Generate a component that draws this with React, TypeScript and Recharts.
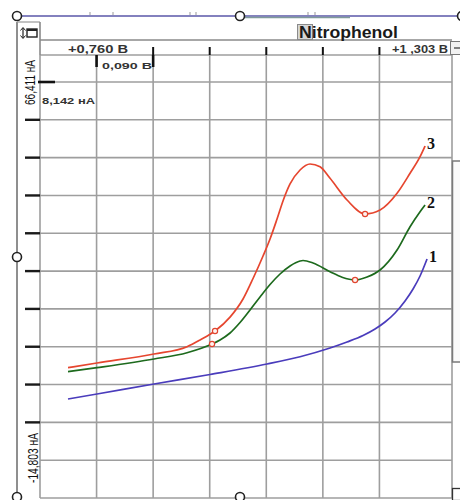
import React from "react";
import {
  ComposedChart,
  Line,
  Scatter,
  XAxis,
  YAxis,
  CartesianGrid,
  LabelList,
} from "recharts";

// Potential (V) and current (nA)
const curve1V = [0.7143, 0.7607, 0.8519, 0.9415, 1.0327, 1.0855, 1.1335, 1.1607, 1.1863, 1.2055, 1.2215, 1.2375, 1.2535, 1.2663, 1.2775, 1.2887];
const curve1I = [-1.66, -0.59, 1.56, 3.6, 5.85, 7.42, 9.29, 10.58, 11.97, 13.37, 14.87, 16.81, 19.38, 21.96, 24.75, 28.4];

const curve2V = [0.7143, 0.7607, 0.8519, 0.9047, 0.9447, 0.9575, 0.9735, 0.9895, 1.0055, 1.0215, 1.0375, 1.0535, 1.0695, 1.0855, 1.0903, 1.1063, 1.1335, 1.1527, 1.1735, 1.1927, 1.2135, 1.2407, 1.2615, 1.2775, 1.2855];
const curve2I = [4.2, 5.06, 6.93, 8.28, 10.15, 11.01, 12.51, 14.76, 17.45, 20.24, 22.92, 25.18, 26.9, 27.97, 28.08, 27.54, 25.67, 24.47, 23.89, 24.54, 26.04, 30.33, 35.34, 38.56, 40.0];

const curve3V = [0.7143, 0.7607, 0.8519, 0.9047, 0.9255, 0.9495, 0.9735, 0.9943, 1.0103, 1.0263, 1.0375, 1.0487, 1.0588, 1.0695, 1.0855, 1.1015, 1.1175, 1.1335, 1.1607, 1.1895, 1.2135, 1.2407, 1.2615, 1.2775, 1.2855];
const curve3I = [5.06, 6.07, 8.0, 9.57, 11.01, 12.94, 15.92, 19.81, 24.21, 29.05, 32.7, 36.99, 41.07, 44.51, 47.51, 48.8, 48.22, 45.73, 41.07, 38.07, 38.92, 42.51, 46.81, 50.37, 52.67];

const marker2V = [0.9447, 1.1735];
const marker2I = [10.15, 23.89];
const marker3V = [0.9495, 1.1895];
const marker3I = [12.94, 38.07];

const curveNames = ["1", "2", "3"];

// Axis ranges / grid
const xDomain = [0.6695, 1.3286];
const xGridTicks = [0.6695, 0.76, 0.8505, 0.941, 1.0315, 1.122, 1.2125, 1.303, 1.3286];
const xTopTicks = [0.8505, 0.941, 1.0315, 1.122, 1.2125];
const yDomain = [-22.924, 72.21];
const yGridTicks = [72.21, 66.411, 58.29, 50.168, 42.047, 33.925, 25.804, 17.682, 9.561, 1.439, -6.682, -14.803, -22.924];
const yTickMarks = [58.29, 50.168, 42.047, 33.925, 25.804, 17.682, 9.561, 1.439, -6.682];

const title = "Nitrophenol";
const xStartLabel = "+0,760 В";
const xEndLabel = "+1 ,303 В";
const xDivLabel = "0,090 В";
const yTopLabel = "66,411 нА";
const yBottomLabel = "-14,803 нА";
const yDivLabel = "8,142 нА";

// chart frame
const CHART_W = 460;
const CHART_H = 500;
const MARGIN = { top: 55, right: 8, bottom: 2, left: 40 };
const plotLeft = MARGIN.left;
const plotRight = CHART_W - MARGIN.right;
const plotTop = MARGIN.top;
const plotBottom = CHART_H - MARGIN.bottom;
const scaleX = (v: number) => plotLeft + ((v - xDomain[0]) / (xDomain[1] - xDomain[0])) * (plotRight - plotLeft);
const scaleY = (v: number) => plotTop + ((yDomain[1] - v) / (yDomain[1] - yDomain[0])) * (plotBottom - plotTop);

const zip = (vs: number[], is: number[]) => vs.map((v, k) => ({ v, i: is[k] }));
const data1 = zip(curve1V, curve1I);
const data2 = zip(curve2V, curve2I);
const data3 = zip(curve3V, curve3I);
const markers2 = zip(marker2V, marker2I);
const markers3 = zip(marker3V, marker3I);

const endLabel = (text: string, len: number) => (props: any) => {
  const { x, y, index } = props;
  if (index !== len - 1) return null;
  return (
    <text
      x={x + 2}
      y={y + 3}
      fontFamily="'Liberation Serif', 'DejaVu Serif', serif"
      fontWeight="bold"
      fontSize={16}
      fill="#111"
    >
      {text}
    </text>
  );
};

const MarkerShape = (props: any) => {
  const { cx, cy } = props;
  return <circle cx={cx} cy={cy} r={2.6} fill="#fff3f0" stroke="#e0452f" strokeWidth={1.2} />;
};

const Handle = ({ cx, cy }: { cx: number; cy: number }) => (
  <circle cx={cx} cy={cy} r={4.5} fill="#fff" stroke="#222" strokeWidth={1.6} />
);

const sans = "'Liberation Sans', Arial, sans-serif";

export default function App() {
  return (
    <div style={{ position: "absolute", left: 0, top: 0, width: CHART_W, height: CHART_H, background: "#fff" }}>
      <ComposedChart width={CHART_W} height={CHART_H} margin={MARGIN}>
        <XAxis
          xAxisId="main"
          dataKey="v"
          type="number"
          domain={xDomain}
          ticks={xGridTicks}
          allowDataOverflow
          hide
        />
        <YAxis
          yAxisId="main"
          dataKey="i"
          type="number"
          domain={yDomain}
          ticks={yGridTicks}
          allowDataOverflow
          hide
        />
        <CartesianGrid
          xAxisId="main"
          yAxisId="main"
          stroke="#9e9e9e"
          strokeWidth={1.6}
        />
        <Line
          xAxisId="main"
          yAxisId="main"
          data={data1}
          dataKey="i"
          type="monotone"
          stroke="#4a3cbc"
          strokeWidth={1.7}
          dot={false}
          isAnimationActive={false}
        >
          <LabelList content={endLabel(curveNames[0], data1.length)} />
        </Line>
        <Line
          xAxisId="main"
          yAxisId="main"
          data={data2}
          dataKey="i"
          type="monotone"
          stroke="#1d6a1d"
          strokeWidth={1.7}
          dot={false}
          isAnimationActive={false}
        >
          <LabelList content={endLabel(curveNames[1], data2.length)} />
        </Line>
        <Line
          xAxisId="main"
          yAxisId="main"
          data={data3}
          dataKey="i"
          type="monotone"
          stroke="#e6462f"
          strokeWidth={1.7}
          dot={false}
          isAnimationActive={false}
        >
          <LabelList content={endLabel(curveNames[2], data3.length)} />
        </Line>
        <Scatter
          xAxisId="main"
          yAxisId="main"
          data={markers2}
          dataKey="i"
          shape={MarkerShape}
          isAnimationActive={false}
        />
        <Scatter
          xAxisId="main"
          yAxisId="main"
          data={markers3}
          dataKey="i"
          shape={MarkerShape}
          isAnimationActive={false}
        />
      </ComposedChart>

      <svg
        width={CHART_W}
        height={CHART_H}
        style={{ position: "absolute", left: 0, top: 0, pointerEvents: "none" }}
      >
        {/* top handle bar */}
        <line x1={17} y1={16} x2={460} y2={16} stroke="#5a57a8" strokeWidth={1.6} />
        <line x1={244} y1={17.5} x2={350} y2={17.5} stroke="#7f9a9a" strokeWidth={1.4} />
        {[90, 113, 190, 196, 308, 315].map((x) => (
          <line key={x} x1={x} y1={12} x2={x} y2={15} stroke="#999" strokeWidth={1} />
        ))}

        {/* frame */}
        <line x1={17} y1={22} x2={17} y2={497} stroke="#6a6a6a" strokeWidth={1.5} />
        <line x1={17} y1={22} x2={40} y2={22} stroke="#9a9a9a" strokeWidth={1.2} />
        <line x1={40} y1={22} x2={40} y2={55} stroke="#8a8a8a" strokeWidth={1.6} />
        <line x1={40} y1={40} x2={452} y2={40} stroke="#8a8a8a" strokeWidth={1.4} />

        {/* axis tick marks */}
        {xTopTicks.map((t) => (
          <line key={"xt" + t} x1={scaleX(t)} y1={47} x2={scaleX(t)} y2={plotTop} stroke="#111" strokeWidth={2} />
        ))}
        {yTickMarks.map((t) => (
          <line key={"yt" + t} x1={25} y1={scaleY(t)} x2={plotLeft} y2={scaleY(t)} stroke="#1a1a1a" strokeWidth={2.4} />
        ))}

        {/* icon */}
        <line x1={23} y1={28} x2={23} y2={38} stroke="#222" strokeWidth={1.2} />
        <path d="M20.5 30.5 L23 27.5 L25.5 30.5 M20.5 35.5 L23 38.5 L25.5 35.5" stroke="#222" fill="none" strokeWidth={1} />
        <rect x={27} y={29} width={10} height={8} fill="#fff" stroke="#222" strokeWidth={1.4} />
        <line x1={27} y1={30} x2={37} y2={30} stroke="#222" strokeWidth={2} />

        {/* title */}
        <rect x={297.5} y={24.5} width={15} height={15} fill="#d6d6d6" stroke="#8a8a8a" strokeWidth={1} />
        <text x={299} y={37.5} fontFamily={sans} fontWeight="bold" fontSize={16} fill="#1a1a1a" textLength={99} lengthAdjust="spacingAndGlyphs">
          {title}
        </text>

        {/* top axis labels */}
        <text x={68} y={52.5} fontFamily={sans} fontWeight="bold" fontSize={11} fill="#333" textLength={60} lengthAdjust="spacingAndGlyphs">
          {xStartLabel}
        </text>
        <text x={392} y={52.5} fontFamily={sans} fontWeight="bold" fontSize={11} fill="#333" textLength={56} lengthAdjust="spacingAndGlyphs">
          {xEndLabel}
        </text>
        <rect x={450.5} y={41.5} width={12} height={13} fill="#f2f2f2" stroke="#777" strokeWidth={1} />
        <line x1={454} y1={48} x2={460} y2={48} stroke="#333" strokeWidth={1.2} />

        {/* division scale bars */}
        <line x1={scaleX(xGridTicks[1])} y1={plotTop} x2={scaleX(xGridTicks[1])} y2={67} stroke="#111" strokeWidth={2.6} />
        <line x1={scaleX(xGridTicks[2])} y1={plotTop} x2={scaleX(xGridTicks[2])} y2={67} stroke="#111" strokeWidth={2.6} />
        <text x={102} y={69} fontFamily={sans} fontWeight="bold" fontSize={9.5} fill="#333" textLength={50} lengthAdjust="spacingAndGlyphs">
          {xDivLabel}
        </text>
        <line x1={38} y1={scaleY(yGridTicks[1])} x2={55} y2={scaleY(yGridTicks[1])} stroke="#111" strokeWidth={2.6} />
        <text x={42} y={104} fontFamily={sans} fontWeight="bold" fontSize={9.5} fill="#333" textLength={53} lengthAdjust="spacingAndGlyphs">
          {yDivLabel}
        </text>

        {/* rotated y labels */}
        <text
          transform="translate(35,82.5) rotate(-90)"
          textAnchor="middle"
          fontFamily={sans}
          fontSize={15}
          fill="#111"
          textLength={45}
          lengthAdjust="spacingAndGlyphs"
        >
          {yTopLabel}
        </text>
        <text
          transform="translate(38,458) rotate(-90)"
          textAnchor="middle"
          fontFamily={sans}
          fontSize={15}
          fill="#111"
          textLength={50}
          lengthAdjust="spacingAndGlyphs"
        >
          {yBottomLabel}
        </text>

        {/* right side panel */}
        <rect x={452.5} y={161} width={12} height={201} fill="#fafafa" stroke="#7a7a7a" strokeWidth={1.5} />
        <rect x={452.5} y={488.5} width={10} height={12} fill="#fff" stroke="#333" strokeWidth={1.3} />

        {/* handles */}
        <Handle cx={17} cy={16} />
        <Handle cx={240} cy={16} />
        <Handle cx={462} cy={16} />
        <Handle cx={17} cy={257} />
        <Handle cx={17} cy={497} />
        <Handle cx={240} cy={497} />
      </svg>
    </div>
  );
}
